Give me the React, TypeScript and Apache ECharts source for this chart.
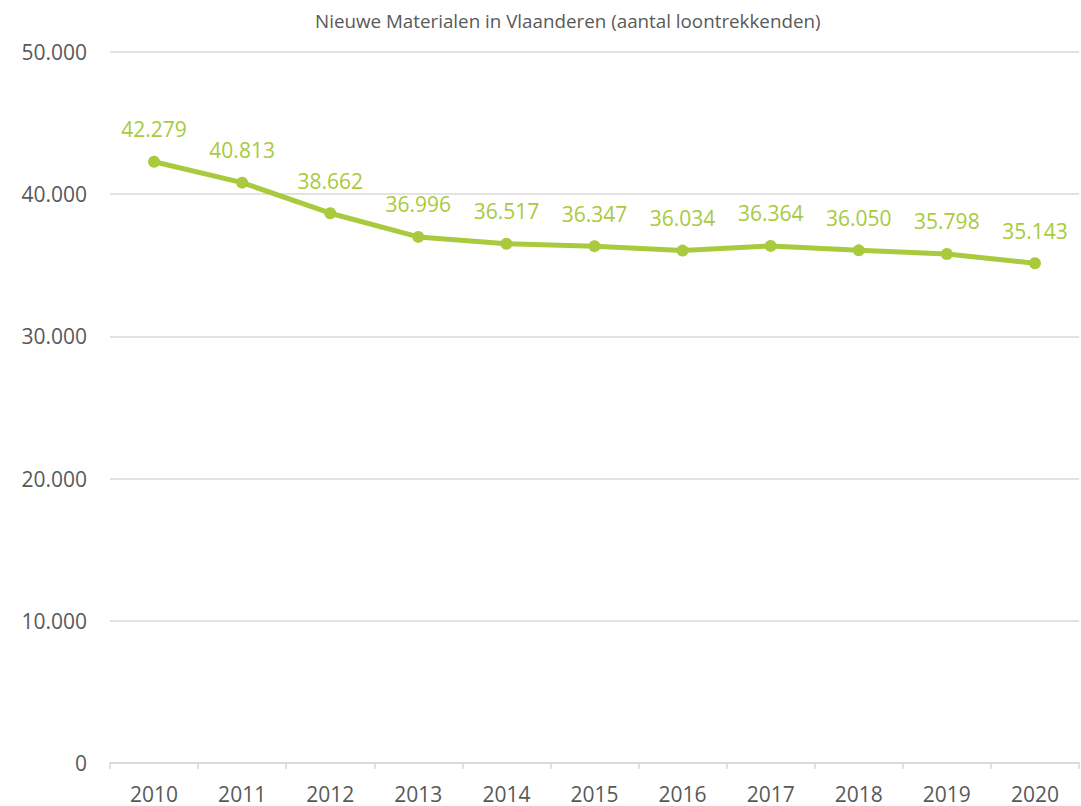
import React, { useEffect, useRef } from "react";
import * as echarts from "echarts";

const years = ["2010", "2011", "2012", "2013", "2014", "2015", "2016", "2017", "2018", "2019", "2020"];
const employees = [42279, 40813, 38662, 36996, 36517, 36347, 36034, 36364, 36050, 35798, 35143];
const titleText = "Nieuwe Materialen in Vlaanderen (aantal loontrekkenden)";

const fmt = (v: number) => String(Math.round(v)).replace(/\B(?=(\d{3})+(?!\d))/g, ".");

const GREEN = "#A9CA3C";
const FONT = "'Open Sans', sans-serif";

export default function App() {
  const ref = useRef<HTMLDivElement>(null);
  useEffect(() => {
    document.body.style.margin = "0";
    const chart = echarts.init(ref.current!, null, { renderer: "svg" });
    chart.setOption({
      animation: false,
      title: {
        text: titleText,
        left: 310,
        top: 6,
        textStyle: { fontFamily: FONT, fontSize: 18.8, fontWeight: "normal", color: "#595959" },
      },
      grid: { left: 110, right: 2, top: 52, bottom: 43 },
      xAxis: {
        type: "category",
        data: years,
        boundaryGap: true,
        axisLine: { lineStyle: { color: "#d9d9d9", width: 1.5 } },
        axisTick: { show: true, length: 6, lineStyle: { color: "#d9d9d9", width: 1.5 } },
        axisLabel: { fontFamily: FONT, fontSize: 21, color: "#595959", margin: 20 },
      },
      yAxis: {
        type: "value",
        min: 0,
        max: 50000,
        interval: 10000,
        axisLine: { show: false },
        axisTick: { show: false },
        splitLine: { lineStyle: { color: "#d9d9d9", width: 1.5 } },
        axisLabel: { fontFamily: FONT, fontSize: 21, color: "#595959", margin: 23, formatter: (v: number) => fmt(v) },
      },
      series: [
        {
          type: "line",
          data: employees,
          symbol: "circle",
          symbolSize: 12,
          lineStyle: { color: GREEN, width: 5 },
          itemStyle: { color: GREEN },
          label: {
            show: true,
            position: "top",
            distance: 16,
            fontFamily: FONT,
            fontSize: 21,
            color: GREEN,
            formatter: (p: any) => fmt(p.value),
          },
        },
      ],
    });
    return () => chart.dispose();
  }, []);
  return <div ref={ref} style={{ width: 1081, height: 806 }} />;
}
